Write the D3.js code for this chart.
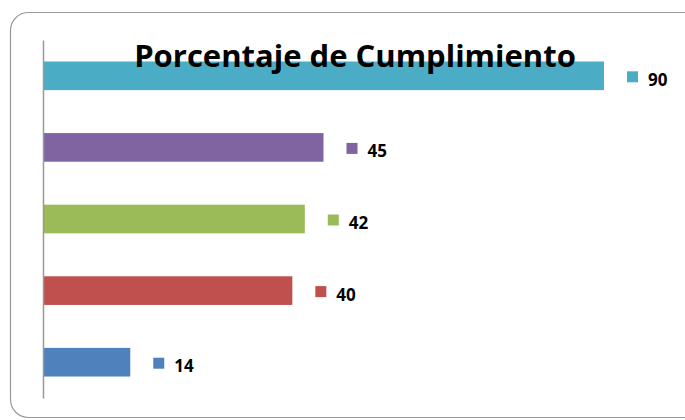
<!DOCTYPE html>
<html lang="es">
<head>
  <meta charset="UTF-8">
  <title>Porcentaje de Cumplimiento</title>
  <script src="https://d3js.org/d3.v7.min.js"></script>
  <style>
    body { margin: 0; background: #fff; }
    .title { font-family: "Open Sans", sans-serif; font-weight: bold; font-size: 31px; fill: #000; }
    .label { font-family: "Open Sans", sans-serif; font-weight: bold; font-size: 17px; fill: #000; }
  </style>
</head>
<body>
<script>
  // data, top to bottom
  var categories = ["E", "D", "C", "B", "A"];
  var values = [90, 45, 42, 40, 14];
  var colors = ["#4BACC6", "#8064A2", "#9BBB59", "#C0504D", "#4F81BD"];

  var W = 685, H = 420;
  var margin = { top: 40, left: 43 };
  var plotH = 358;

  var svg = d3.select("body").append("svg")
      .attr("width", W).attr("height", H);

  // chart frame
  svg.append("rect")
     .attr("x", 10.5).attr("y", 12.5)
     .attr("width", 700).attr("height", 405)
     .attr("rx", 18).attr("ry", 18)
     .attr("fill", "#fff")
     .attr("stroke", "#999").attr("stroke-width", 1.2);

  var g = svg.append("g").attr("transform", `translate(${margin.left},${margin.top})`);

  var x = d3.scaleLinear().domain([0, 90]).range([0, 561]);
  var y = d3.scaleBand().domain(categories).range([0, plotH]).paddingInner(0.6).paddingOuter(0.3);

  g.selectAll(".bar")
   .data(values)
   .enter().append("rect")
   .attr("class", "bar")
   .attr("x", 0)
   .attr("y", (d, i) => y(categories[i]))
   .attr("width", d => x(d))
   .attr("height", y.bandwidth())
   .attr("fill", (d, i) => colors[i]);

  // markers + labels
  g.selectAll(".mk")
   .data(values)
   .enter().append("rect")
   .attr("class", "mk")
   .attr("x", d => x(d) + 23)
   .attr("y", (d, i) => y(categories[i]) + y.bandwidth() / 2 - 4.5)
   .attr("width", 11).attr("height", 11)
   .attr("fill", (d, i) => colors[i]);

  g.selectAll(".label")
   .data(values)
   .enter().append("text")
   .attr("class", "label")
   .attr("x", d => x(d) + 44)
   .attr("y", (d, i) => y(categories[i]) + y.bandwidth() / 2 + 10)
   .text(d => d);

  // axis line
  g.append("g")
   .call(d3.axisLeft(y).tickSize(0).tickFormat(""))
   .select(".domain").attr("stroke", "#999").attr("stroke-width", 1.5);

  svg.append("text")
     .attr("class", "title")
     .attr("x", 355).attr("y", 67)
     .attr("text-anchor", "middle")
     .text("Porcentaje de Cumplimiento");
</script>
</body>
</html>
